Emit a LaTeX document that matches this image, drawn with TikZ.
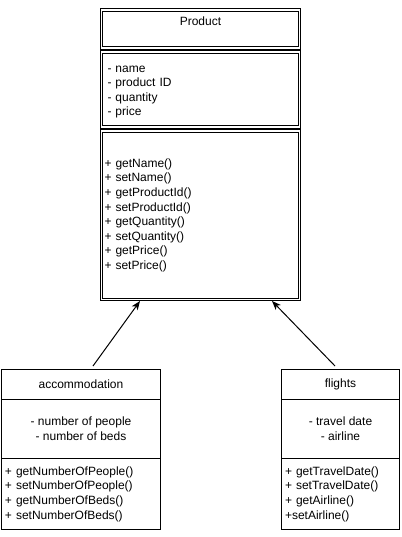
\documentclass[tikz,border=0pt]{standalone}
\usepackage{fontspec}
\setmainfont{Liberation Sans}
\usetikzlibrary{arrows.meta}
\begin{document}
\begin{tikzpicture}[x=1pt,y=-1pt,
  every node/.style={font=\fontsize{12}{14.6}\selectfont, text=black},
  part/.style={draw, line width=1pt, rectangle, inner sep=0pt, outer sep=0pt},
  dpart/.style={part, double, double distance=1.5pt},
  conn/.style={line width=1pt, -{Stealth[length=9pt,width=7pt,inset=2.5pt]}}
]
\useasboundingbox (0,0) rectangle (401,537);

% Product class (double border)
\node[dpart, minimum width=198pt, minimum height=38pt] (phead) at (200.5,29) {};
\node (ptitle) at (200.5,21.5) {Product};
\node[dpart, minimum width=198pt, minimum height=75pt] (pattr) at (200.5,89.5) {};
\node[text width=186pt, align=left, inner sep=0pt] (pattrtext) at (200.5,92)
  {- name\\- product ID\\- quantity\\- price};
\node[dpart, minimum width=198pt, minimum height=168.5pt, text width=192pt, align=left]
  (pmeth) at (200.5,215.25)
  {+ getName()\\+ setName()\\+ getProductId()\\+ setProductId()\\+ getQuantity()\\+ setQuantity()\\+ getPrice()\\+ setPrice()};

% accommodation class
\node[part, minimum width=159pt, minimum height=30pt] (ahead) at (81,384.5) {accommodation};
\node[part, minimum width=159pt, minimum height=59pt, align=center] (aattr) at (81,429)
  {- number of people\\- number of beds};
\node[part, minimum width=159pt, minimum height=71pt, text width=152pt, align=left] (ameth) at (81,494)
  {+ getNumberOfPeople()\\+ setNumberOfPeople()\\+ getNumberOfBeds()\\+ setNumberOfBeds()};

% flights class
\node[part, minimum width=118pt, minimum height=30pt] (fhead) at (340.5,384.5) {flights};
\node[part, minimum width=118pt, minimum height=59pt, align=center] (fattr) at (340.5,429)
  {- travel date\\- airline};
\node[part, minimum width=118pt, minimum height=71pt, text width=111pt, align=left] (fmeth) at (340.5,494)
  {+ getTravelDate()\\+ setTravelDate()\\+ getAirline()\\+setAirline()};

% generalisation arrows
\draw[conn] ([xshift=12pt,yshift=3.5pt]ahead.north) -- ([xshift=-60.5pt,yshift=-1.5pt]pmeth.south);
\draw[conn] ([xshift=-5.5pt,yshift=3.5pt]fhead.north) -- ([xshift=71.5pt,yshift=-1.5pt]pmeth.south);
\end{tikzpicture}
\end{document}
